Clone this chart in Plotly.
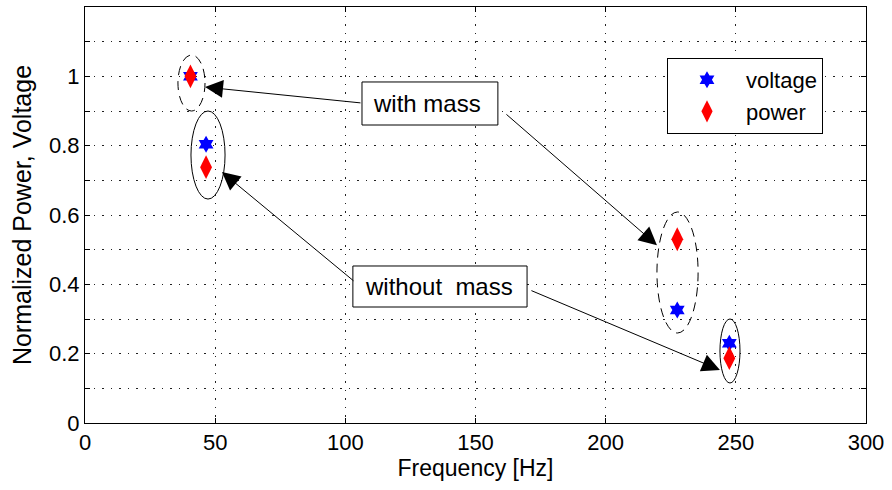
import plotly.graph_objects as go

# ---- data ----
freq_voltage = [40.5, 46.5, 227.5, 247.5]
voltage = [1.0, 0.804, 0.326, 0.23]
freq_power = [40.5, 46.5, 227.5, 247.5]
power = [1.0, 0.738, 0.53, 0.187]

x_ticks = [0, 50, 100, 150, 200, 250, 300]
y_ticks = [0, 0.1, 0.2, 0.3, 0.4, 0.5, 0.6, 0.7, 0.8, 0.9, 1.0, 1.1, 1.2]
y_ticktext = ["0", "", "0.2", "", "0.4", "", "0.6", "", "0.8", "", "1", "", ""]

FONT = "Liberation Sans, Arial, Helvetica, sans-serif"

fig = go.Figure()
fig.add_trace(go.Scatter(x=freq_voltage, y=voltage, mode="markers", name="voltage",
                         marker=dict(symbol="hexagram", size=13, color="blue",
                                     line=dict(width=0))))
fig.add_trace(go.Scatter(x=freq_power, y=power, mode="markers", name="power",
                         marker=dict(symbol="diamond-tall", size=17, color="red",
                                     line=dict(width=0))))

# ellipses (dashed: with mass, solid: without mass)
ellipses = [
    (35.7, 46.1, 0.900, 1.0615, "dash"),
    (40.7, 53.8, 0.646, 0.900, "solid"),
    (219.7, 235.5, 0.2596, 0.6087, "dash"),
    (243.9, 251.6, 0.1154, 0.300, "solid"),
]
for x0, x1, y0, y1, d in ellipses:
    fig.add_shape(type="circle", xref="x", yref="y", x0=x0, x1=x1, y0=y0, y1=y1,
                  line=dict(color="black", width=1, dash=("9px,6px" if d == "dash" else "solid")))

# text boxes
boxes = [
    (106.4, 158.6, 0.8596, 0.9837, "with mass", 110.0, 0.921),
    (102.9, 169.8, 0.3346, 0.4529, "without  mass", 106.8, 0.3938),
]
for x0, x1, y0, y1, txt, tx, ty in boxes:
    fig.add_shape(type="rect", xref="x", yref="y", x0=x0, x1=x1, y0=y0, y1=y1,
                  fillcolor="white", line=dict(color="black", width=1), layer="above")
    fig.add_annotation(x=tx, y=ty, xref="x", yref="y", text=txt.replace("  ", "&nbsp; "),
                       showarrow=False, xanchor="left", yanchor="middle",
                       font=dict(family=FONT, size=24, color="black"))

# arrows (tail -> head)
arrows = [
    ((106.4, 0.923), (46.1, 0.969)),
    ((161.3, 0.894), (219.7, 0.513)),
    ((103.7, 0.4067), (52.6, 0.724)),
    ((170.9, 0.3837), (243.9, 0.1529)),
]
for (tx, ty), (hx, hy) in arrows:
    fig.add_annotation(x=hx, y=hy, ax=tx, ay=ty, xref="x", yref="y", axref="x", ayref="y",
                       text="", showarrow=True, arrowhead=2, arrowsize=3.6, arrowwidth=1,
                       arrowcolor="black", standoff=0, startstandoff=0)

fig.update_layout(
    width=892, height=490,
    margin=dict(l=85, r=26, t=7, b=67),
    paper_bgcolor="white", plot_bgcolor="white",
    font=dict(family=FONT, size=23, color="black"),
    showlegend=True,
    legend=dict(x=0.7452, y=0.8775, xanchor="left", yanchor="top",
                bgcolor="white", bordercolor="black", borderwidth=1,
                font=dict(family=FONT, size=22), itemwidth=68,
                tracegroupgap=0),
)
fig.update_xaxes(range=[0, 300], tickvals=x_ticks, ticks="inside", ticklen=5,
                 tickcolor="black", showline=True, linecolor="black", linewidth=1,
                 mirror="ticks", showgrid=True, gridcolor="#222", gridwidth=1,
                 griddash="1.5px,7px", zeroline=False,
                 title=dict(text="Frequency [Hz]", standoff=2,
                            font=dict(family=FONT, size=23)),
                 tickfont=dict(family=FONT, size=22))
fig.update_yaxes(range=[0, 1.2], tickvals=y_ticks, ticktext=y_ticktext, ticks="inside",
                 ticklen=5, tickcolor="black", showline=True, linecolor="black", linewidth=1,
                 mirror="ticks", showgrid=True, gridcolor="#222", gridwidth=1,
                 griddash="1.5px,7px", zeroline=False,
                 title=dict(text="Normalized Power, Voltage", standoff=10,
                            font=dict(family=FONT, size=25)),
                 tickfont=dict(family=FONT, size=22))

fig.write_html("out.html")
